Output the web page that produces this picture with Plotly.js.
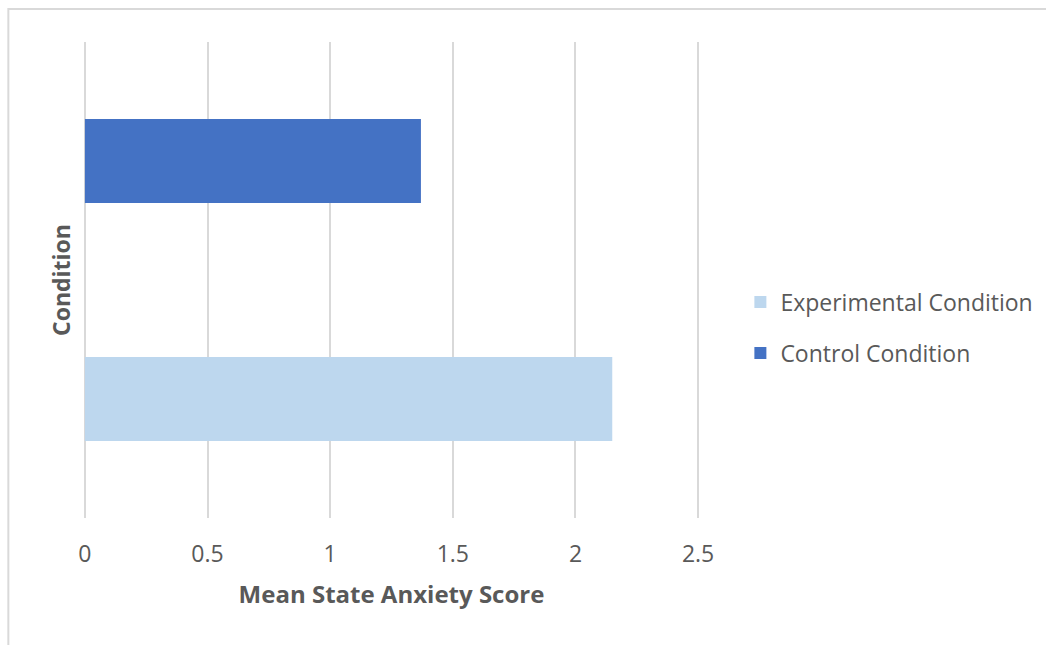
<!DOCTYPE html>
<html>
<head>
<meta charset="utf-8">
<script src="https://cdn.plot.ly/plotly-3.0.1.min.js"></script>
<style>html,body{margin:0;padding:0;background:#fff;}#chart{width:1046px;height:645px;}</style>
</head>
<body>
<div id="chart"></div>
<script>
const category = ["Condition"];
const seriesNames = ["Experimental Condition", "Control Condition"];
const experimentalValues = [2.15];
const controlValues = [1.37];
const xTicks = [0, 0.5, 1, 1.5, 2, 2.5];
const xTickLabels = ["0", "0.5", "1", "1.5", "2", "2.5"];

const font = "Open Sans, Liberation Sans, sans-serif";
const traces = [
  {type: "bar", orientation: "h", name: seriesNames[0], x: experimentalValues, y: category,
   marker: {color: "#BDD7EE"}, legendgroup: "a", hoverinfo: "x+name"},
  {type: "bar", orientation: "h", name: seriesNames[1], x: controlValues, y: category,
   marker: {color: "#4472C4"}, legendgroup: "b", hoverinfo: "x+name"}
];
const layout = {
  width: 1046, height: 645,
  margin: {l: 80, r: 343, t: 42, b: 127, autoexpand: false},
  paper_bgcolor: "#fff", plot_bgcolor: "#fff",
  barmode: "group", bargap: 0, bargroupgap: 0.647,
  font: {family: font, color: "#595959", size: 20},
  xaxis: {
    range: [-0.02, 2.52], tickvals: xTicks, ticktext: xTickLabels,
    showgrid: true, gridcolor: "#d9d9d9", gridwidth: 2,
    zeroline: false, showline: false, ticks: "outside", ticklen: 15, tickcolor: "rgba(0,0,0,0)",
    tickfont: {size: 23, color: "#595959", family: font},
    title: {text: "Mean State Anxiety Score", font: {size: 24, color: "#595959", family: font, weight: "bold"}, standoff: 18}
  },
  yaxis: {
    showticklabels: false, showgrid: false, zeroline: false, showline: false, ticks: "",
    title: {text: "Condition", font: {size: 23, color: "#595959", family: font, weight: "bold"}, standoff: 1}
  },
  showlegend: true,
  legend: {x: 1.060, xanchor: "left", y: 0.40, yanchor: "middle", traceorder: "grouped",
    font: {size: 23, color: "#595959", family: font}, tracegroupgap: 18, bgcolor: "rgba(0,0,0,0)"},
  shapes: [{type: "rect", xref: "paper", yref: "paper", x0: -0.115, x1: 1.7, y0: 1.0693, y1: -0.3,
    line: {color: "#d9d9d9", width: 2}, fillcolor: "rgba(0,0,0,0)", layer: "below"}]
};
Plotly.newPlot("chart", traces, layout, {displayModeBar: false});
</script>
</body>
</html>
